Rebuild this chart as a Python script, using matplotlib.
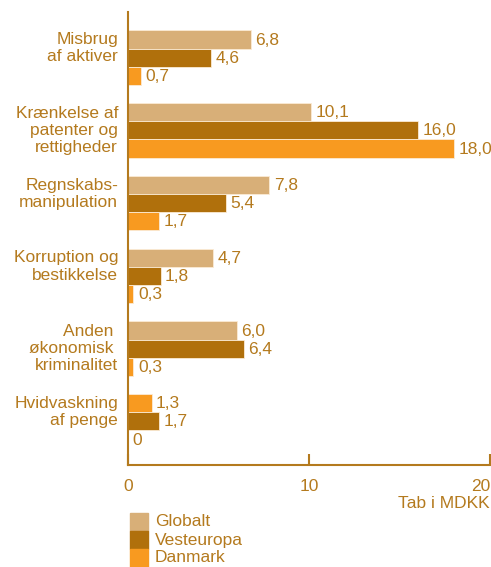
import numpy as np
import matplotlib.pyplot as plt

categories = ['Misbrug\naf aktiver', 'Krænkelse af\npatenter og\nrettigheder',
              'Regnskabs-\nmanipulation', 'Korruption og\nbestikkelse',
              'Anden \nøkonomisk \nkriminalitet', 'Hvidvaskning\naf penge']
globalt = [6.8, 10.1, 7.8, 4.7, 6.0, 1.3]
vesteuropa = [4.6, 16.0, 5.4, 1.8, 6.4, 1.7]
danmark = [0.7, 18.0, 1.7, 0.3, 0.3, 0.0]
series_names = ['Globalt', 'Vesteuropa', 'Danmark']
xticks = [0, 10, 20]

TAN = '#D8AF78'
BROWN = '#B0700C'
ORANGE = '#F89A20'
TEXT = '#B47A1E'
colors = [TAN, BROWN, ORANGE]
# the last group's first bar is drawn orange in the original
group_colors = [colors] * 5 + [[ORANGE, BROWN, ORANGE]]
FS = 12.5

plt.rcParams['font.family'] = ['Liberation Sans', 'DejaVu Sans']

fig = plt.figure(figsize=(4.91, 5.67), dpi=100)
ax = fig.add_axes([128 / 491, 1 - 465 / 567, 362 / 491, 453 / 567])

series = [globalt, vesteuropa, danmark]
for i, cat in enumerate(categories):
    for j, vals in enumerate(series):
        y = 4 * i + j
        v = vals[i]
        ax.barh(y, v, height=1.0, color=group_colors[i][j],
                edgecolor='#FBEBD5', linewidth=0.6)
        ax.text(v + 0.25, y + 0.28, f'{v:.1f}'.replace('.', ',') if v else '0',
                va='baseline', ha='left', fontsize=FS, color=TEXT)
    # va='baseline' aligns the last line, so push down by the extra lines
    nlines = cat.count('\n') + 1
    ax.text(-0.55, 4 * i + 0.2 + (nlines - 1) * 1.0, cat, ha='right', va='baseline',
            multialignment='right', fontsize=FS, color=TEXT, linespacing=1.17,
            clip_on=False)

ax.set_xlim(0, 20)
ax.set_ylim(23.4, -1.51)
ax.set_yticks([])
ax.set_xticks(xticks)
ax.set_xticklabels([str(t) for t in xticks], fontsize=FS, color=TEXT)
ax.get_xticklabels()[-1].set_horizontalalignment('right')
ax.tick_params(axis='x', direction='in', length=8, width=1.5, color=TEXT, pad=10)
for s in ['top', 'right']:
    ax.spines[s].set_visible(False)
for s in ['left', 'bottom']:
    ax.spines[s].set_color(TEXT)
    ax.spines[s].set_linewidth(1.5)

fig.text(490 / 491, 1 - 504 / 567, 'Tab i MDKK', ha='right', va='center',
         fontsize=FS, color=TEXT)

# legend
for k, name in enumerate(series_names):
    top = 513 + 18 * k
    fig.patches.append(plt.Rectangle((130 / 491, 1 - (top + 18) / 567), 18 / 491, 18 / 567,
                                     transform=fig.transFigure, color=colors[k],
                                     figure=fig))
    fig.text(155 / 491, 1 - (top + 9) / 567, name, ha='left', va='center',
             fontsize=FS, color=TEXT)

fig.savefig('out.png', dpi=100)
